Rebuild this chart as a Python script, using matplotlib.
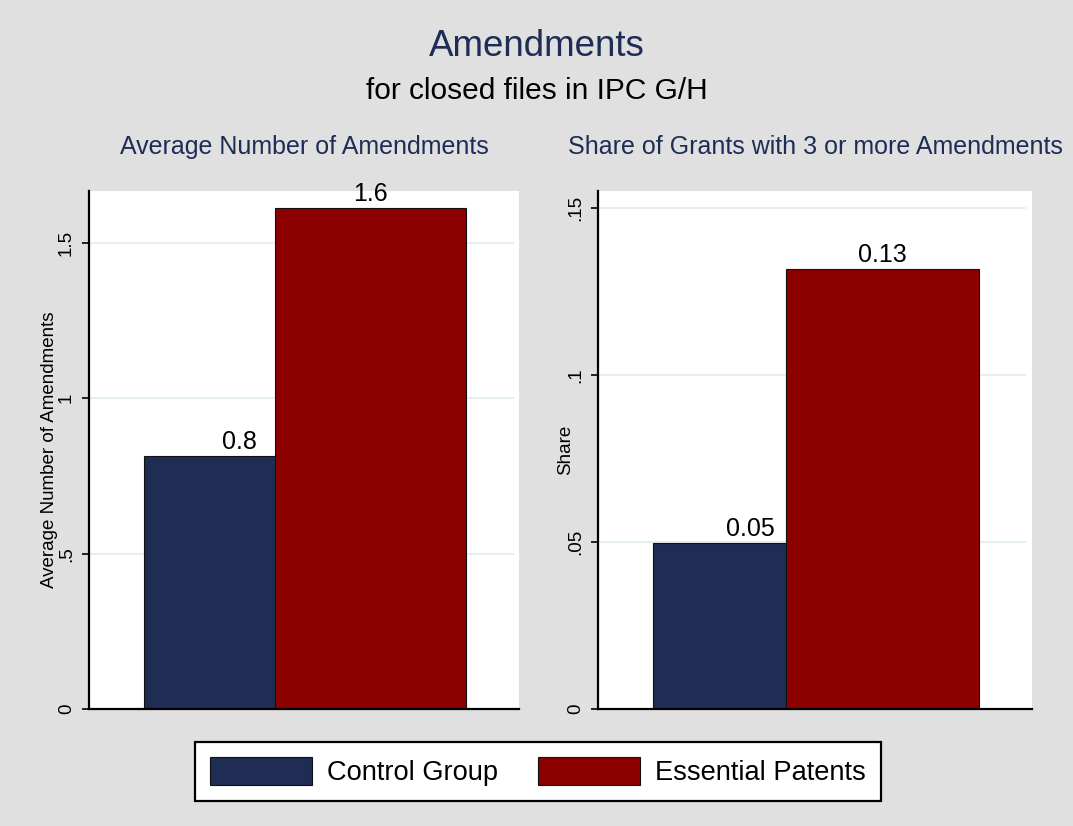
import matplotlib
matplotlib.use('Agg')
import matplotlib.pyplot as plt
from matplotlib.patches import Patch

plt.rcParams['font.family'] = ['Liberation Sans', 'DejaVu Sans']

groups = ['Control Group', 'Essential Patents']
avg_amend = [0.814, 1.612]
share_3plus = [0.0497, 0.1317]
avg_labels = ['0.8', '1.6']
share_labels = ['0.05', '0.13']
avg_ticks = [0, 0.5, 1, 1.5]
avg_ticklabels = ['0', '.5', '1', '1.5']
share_ticks = [0, 0.05, 0.1, 0.15]
share_ticklabels = ['0', '.05', '.1', '.15']

navy = '#1f2d55'
maroon = '#8c0000'
bg = '#e0e0e0'
title_col = '#1e2d55'
grid_col = '#e6eff1'

fig = plt.figure(figsize=(10.73, 8.26), dpi=100, facecolor=bg)

W, H = 1073, 826
def box(x0, x1, y0, y1):
    return [x0 / W, 1 - y1 / H, (x1 - x0) / W, (y1 - y0) / H]

ax1 = fig.add_axes(box(89, 519, 191, 709))
ax2 = fig.add_axes(box(598, 1032, 191, 709))

centers = [0.35, 0.655]
bw = 0.445

def panel(ax, vals, labels, ticks, ticklabels, ytop, ylabel, title, labelpad):
    ax.set_xlim(0, 1)
    ax.set_ylim(0, ytop)
    ax.set_facecolor('white')
    for i in range(2):
        b = ax.bar(centers[i], vals[i], width=bw, color=[navy, maroon][i],
                   edgecolor='#111111', linewidth=0.8, zorder=2 + i)
        ax.bar_label(b, labels=[labels[i]], padding=1.5, fontsize=18, zorder=5)
    ax.set_yticks(ticks)
    ax.set_yticklabels(ticklabels, rotation=90, va='center', fontsize=13.5)
    ax.set_xticks([])
    for t in ticks[1:]:
        ax.axhline(t, xmin=0, xmax=0.985, color=grid_col, lw=1.5, zorder=1)
    for s in ['top', 'right']:
        ax.spines[s].set_visible(False)
    ax.spines['left'].set_linewidth(1.6)
    ax.spines['bottom'].set_linewidth(1.6)
    ax.spines['left'].set_zorder(6)
    ax.spines['bottom'].set_zorder(6)
    ax.tick_params(axis='y', length=5, width=1.2, pad=5)
    ax.set_ylabel(ylabel, fontsize=13.5, labelpad=labelpad)
    pos = ax.get_position()
    fig.text(pos.x0 + pos.width / 2, 1 - 154 / H, title, ha='center',
             va='baseline', fontsize=18, color=title_col)

panel(ax1, avg_amend, avg_labels, avg_ticks, avg_ticklabels, 1.667,
      'Average Number of Amendments', 'Average Number of Amendments', 0)
panel(ax2, share_3plus, share_labels, share_ticks, share_ticklabels, 0.1551,
      'Share', 'Share of Grants with 3 or more Amendments', -5)

fig.text(0.5, 1 - 56 / H, 'Amendments', ha='center', va='baseline',
         fontsize=26.5, color=title_col)
fig.text(0.5, 1 - 99 / H, 'for closed files in IPC G/H', ha='center',
         va='baseline', fontsize=21.5, color='black')

handles = [Patch(facecolor=navy, edgecolor='#111111', linewidth=0.8),
           Patch(facecolor=maroon, edgecolor='#111111', linewidth=0.8)]
leg = fig.legend(handles, groups, loc='center', ncol=2,
                 bbox_to_anchor=(538 / W, 1 - 771.5 / H), fontsize=19.6,
                 handlelength=3.75, handleheight=1.18, handletextpad=0.55,
                 columnspacing=1.45, borderpad=0.55, fancybox=False,
                 framealpha=1, edgecolor='black')
leg.get_frame().set_linewidth(1.6)

fig.savefig('out.png', dpi=100, facecolor=bg)
